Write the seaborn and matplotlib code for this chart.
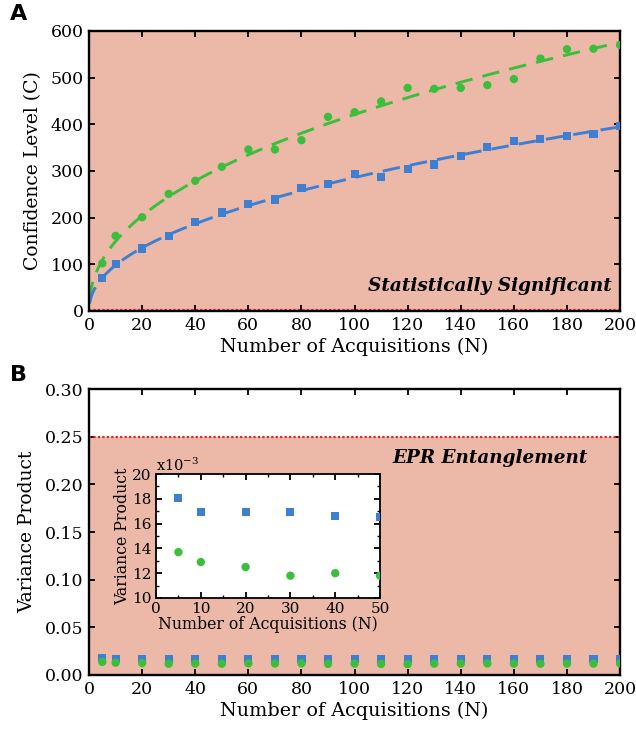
import numpy as np
import pandas as pd
import matplotlib
matplotlib.use("Agg")
import matplotlib.pyplot as plt
from matplotlib.ticker import MultipleLocator, FormatStrFormatter
import seaborn as sns

# Number of acquisitions
acquisitions = [5, 10, 20, 30, 40, 50, 60, 70, 80, 90, 100,
                110, 120, 130, 140, 150, 160, 170, 180, 190, 200]

# Confidence level for the two measurements
confidence_green = [102, 161, 201, 251, 279, 309, 346, 346, 366, 416, 426,
                    449, 478, 476, 478, 484, 497, 541, 561, 562, 570]
confidence_blue = [70, 100, 134, 161, 190, 211, 229, 239, 264, 273, 293,
                   288, 304, 314, 333, 352, 364, 368, 375, 379, 396]

# Variance product for the two measurements
variance_blue = [0.0181, 0.0169, 0.0169, 0.0169, 0.0166, 0.0165, 0.0168,
                 0.0166, 0.0163, 0.0166, 0.0165, 0.0169, 0.0167, 0.0169,
                 0.0165, 0.0164, 0.0162, 0.0164, 0.0165, 0.0165, 0.0166]
variance_green = [0.0137, 0.0129, 0.0125, 0.0118, 0.0120, 0.0118, 0.0122,
                  0.0120, 0.0122, 0.0117, 0.0119, 0.0116, 0.0114, 0.0119,
                  0.0120, 0.0121, 0.0119, 0.0118, 0.0119, 0.0119, 0.0120]

significance_threshold = 2
epr_bound = 0.25

BLUE = "#3F7FD2"
GREEN = "#3CBE3C"
PINK = "#ECB9A8"
RED = "#E3232B"

sns.set_theme(style="ticks")
plt.rcParams["font.family"] = ["DejaVu Serif"]
plt.rcParams["mathtext.fontset"] = "dejavuserif"
for key in ["text.color", "axes.labelcolor", "xtick.color", "ytick.color",
            "axes.edgecolor"]:
    plt.rcParams[key] = "black"

df = pd.DataFrame({
    "N": acquisitions,
    "C_green": confidence_green,
    "C_blue": confidence_blue,
    "V_green": variance_green,
    "V_blue": variance_blue,
})

fig = plt.figure(figsize=(6.36, 7.34), dpi=100)
axA = fig.add_axes([0.140, 0.5763, 0.835, 0.3815])
axB = fig.add_axes([0.140, 0.0804, 0.835, 0.3896])
axI = fig.add_axes([0.2453, 0.1853, 0.3522, 0.1689])


def style_axes(ax, size=12.5):
    for s in ax.spines.values():
        s.set_linewidth(1.7)
        s.set_color("black")
    ax.tick_params(direction="in", top=True, right=True, length=4, width=1.3,
                   labelsize=size, pad=4, colors="black")
    ax.tick_params(which="minor", direction="in", top=True, right=True,
                   length=2.5, width=1.0)


# ---- Panel A: confidence level ----
axA.axhspan(significance_threshold, 600, color=PINK, lw=0, zorder=0)
axA.axhline(significance_threshold, color=RED, lw=1.6, ls=(0, (1, 1)), zorder=1)

nfit = np.linspace(0.2, 200, 400)
for col, color in [("C_green", GREEN), ("C_blue", BLUE)]:
    p, loga = np.polyfit(np.log(df["N"]), np.log(df[col]), 1)
    fit = pd.DataFrame({"N": nfit, "C": np.exp(loga) * nfit ** p})
    sns.lineplot(data=fit, x="N", y="C", ax=axA, color=color, lw=2.1,
                 dashes=False, linestyle=(0, (6, 3.5)), zorder=2)

sns.scatterplot(data=df, x="N", y="C_green", ax=axA, color=GREEN, marker="o",
                s=36, edgecolor="none", zorder=3)
sns.scatterplot(data=df, x="N", y="C_blue", ax=axA, color=BLUE, marker="s",
                s=34, edgecolor="none", zorder=3)
axA.set_xlim(0, 200)
axA.set_ylim(0, 600)
axA.xaxis.set_major_locator(MultipleLocator(20))
axA.yaxis.set_major_locator(MultipleLocator(100))
style_axes(axA)
axA.set_xlabel("Number of Acquisitions (N)", fontsize=13.8, labelpad=3)
axA.set_ylabel("Confidence Level (C)", fontsize=13.5, labelpad=6)
axA.text(197, 54, "Statistically Significant", ha="right", va="center",
         fontsize=13.3, fontweight="bold", fontstyle="italic")

# ---- Panel B: variance product ----
axB.axhspan(0, epr_bound, color=PINK, lw=0, zorder=0)
axB.axhline(epr_bound, color=RED, lw=1.6, ls=(0, (1, 1)), zorder=1)
sns.scatterplot(data=df, x="N", y="V_blue", ax=axB, color=BLUE, marker="s",
                s=34, edgecolor="none", zorder=3)
sns.scatterplot(data=df, x="N", y="V_green", ax=axB, color=GREEN, marker="o",
                s=36, edgecolor="none", zorder=3)
axB.set_xlim(0, 200)
axB.set_ylim(0, 0.30)
axB.xaxis.set_major_locator(MultipleLocator(20))
axB.yaxis.set_major_locator(MultipleLocator(0.05))
axB.yaxis.set_major_formatter(FormatStrFormatter("%.2f"))
style_axes(axB)
axB.set_xlabel("Number of Acquisitions (N)", fontsize=13.8, labelpad=3)
axB.set_ylabel("Variance Product", fontsize=13.5, labelpad=6)
axB.text(188, 0.2276, "EPR Entanglement", ha="right", va="center",
         fontsize=13.2, fontweight="bold", fontstyle="italic")

# ---- Inset: first acquisitions, scaled by 1e3 ----
early = df[df["N"] <= 50].copy()
early["V_blue_m"] = early["V_blue"] * 1e3
early["V_green_m"] = early["V_green"] * 1e3
axI.set_facecolor("white")
sns.scatterplot(data=early, x="N", y="V_blue_m", ax=axI, color=BLUE, marker="s",
                s=34, edgecolor="none", zorder=3)
sns.scatterplot(data=early, x="N", y="V_green_m", ax=axI, color=GREEN, marker="o",
                s=36, edgecolor="none", zorder=3)
axI.set_xlim(0, 50)
axI.set_ylim(10, 20)
axI.xaxis.set_major_locator(MultipleLocator(10))
axI.xaxis.set_minor_locator(MultipleLocator(5))
axI.yaxis.set_major_locator(MultipleLocator(2))
axI.yaxis.set_minor_locator(MultipleLocator(1))
style_axes(axI, size=11)
for s in axI.spines.values():
    s.set_linewidth(1.3)
axI.tick_params(axis="y", pad=3)
axI.tick_params(axis="x", pad=3)
axI.set_xlabel("Number of Acquisitions (N)", fontsize=11.3, labelpad=0)
axI.set_ylabel("Variance Product", fontsize=11.3, labelpad=1)
axI.text(0.0, 1.0, r"x10$^{-3}$", transform=axI.transAxes, ha="left",
         va="bottom", fontsize=10.5)

fig.text(0.016, 0.994, "A", fontsize=16, fontweight="bold", va="top",
         family=["DejaVu Sans"])
fig.text(0.016, 0.503, "B", fontsize=16, fontweight="bold", va="top",
         family=["DejaVu Sans"])

fig.savefig("out.png", dpi=100)
